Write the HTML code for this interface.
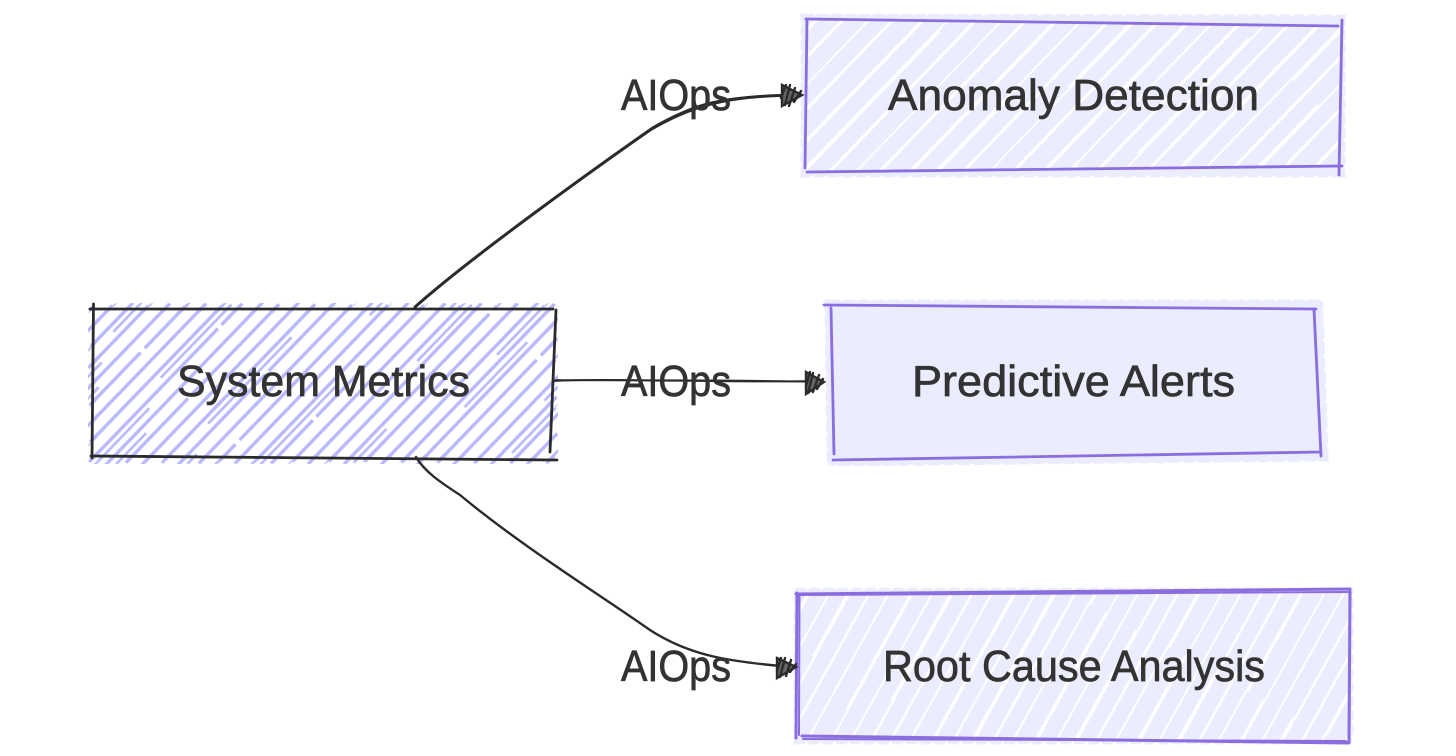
<!DOCTYPE html>
<html><head><meta charset="utf-8"><title>AIOps diagram</title>
<style>html,body{margin:0;padding:0;background:#fff;width:1456px;height:756px;overflow:hidden}svg{display:block}
text{font-family:"Liberation Sans",sans-serif;font-size:44px;fill:#333;stroke:#333;stroke-width:.7px}</style></head>
<body>
<svg width="1456" height="756" viewBox="0 0 1456 756" xmlns="http://www.w3.org/2000/svg">
<defs>
<pattern id="p1" patternUnits="userSpaceOnUse" width="66" height="420" patternTransform="rotate(44)">
<g stroke="#b8b8fb" stroke-width="3.4" fill="none">
<path d="M3 0V420M16 0V150M16 156V420M29 0V420M42 0V300M42 306V420M55 0V80M55 85V420"/>
<path d="M48 40V160M10 210V330M23 300V390M61 190V270" stroke-width="2.600"/>
</g></pattern>
<pattern id="p2" patternUnits="userSpaceOnUse" width="96" height="420" patternTransform="rotate(44)">
<rect width="96" height="420" fill="#ececff"/>
<g stroke="#fff" fill="none">
<path d="M6 0V420" stroke-width="3.500"/>
<path d="M24 0V210" stroke-width="2"/><path d="M25 210V420" stroke-width="4"/>
<path d="M44 0V420" stroke-width="3"/>
<path d="M62 0V160" stroke-width="4"/><path d="M63 160V420" stroke-width="1.800"/>
<path d="M80 0V420" stroke-width="3"/>
</g></pattern>
<pattern id="p4" patternUnits="userSpaceOnUse" width="90" height="420" patternTransform="rotate(29)">
<rect width="90" height="420" fill="#ececff"/>
<g stroke="#fff" fill="none">
<path d="M5 0V210" stroke-width="3.400"/><path d="M6 210V420" stroke-width="1.800"/>
<path d="M23 0V420" stroke-width="2"/>
<path d="M40 0V180" stroke-width="3.800"/><path d="M41 180V420" stroke-width="2.400"/>
<path d="M58 0V420" stroke-width="2.600"/>
<path d="M75 0V260" stroke-width="2"/><path d="M76 260V420" stroke-width="3.400"/>
</g></pattern>
</defs>

<rect width="1456" height="756" fill="#fff"/>

<!-- System Metrics -->
<rect x="93" y="308" width="460" height="151" fill="none" stroke="url(#p1)" stroke-width="10" stroke-dasharray="3 9" stroke-linecap="round"/>
<rect x="93" y="308" width="460" height="151" fill="url(#p1)"/>
<g stroke="#2b2b2b" stroke-width="2.800" fill="none" stroke-linecap="round">
<path d="M90 309L553 309"/><path d="M93.500 304L92 458"/><path d="M556 310L550 452"/><path d="M91 456L557 460"/>
</g>

<!-- Anomaly Detection -->
<path d="M806 19L1340 20L1340 172L806 172Z" fill="none" stroke="#ececff" stroke-width="11" stroke-dasharray="5 9" stroke-linecap="round"/>
<path d="M806 19L1340 26L1340 168L806 172Z" fill="url(#p2)"/>
<g stroke="#8a6ddf" stroke-width="2.800" fill="none" stroke-linecap="round">
<path d="M806 19L1338 26"/><path d="M1342 20L1339 175"/><path d="M807 172L1342 166"/><path d="M807 20L805 168"/>
</g>

<!-- Predictive Alerts -->
<path d="M831 306H1317L1322 455L833 460Z" fill="#ececff" stroke="#ececff" stroke-width="13" stroke-dasharray="6 9" stroke-linecap="round"/>
<path d="M831 306H1317L1322 455L833 460Z" fill="#ececff"/>
<g stroke="#8a6ddf" stroke-width="2.800" fill="none" stroke-linecap="round">
<path d="M824 305L1316 309"/><path d="M1314 309L1321 456"/><path d="M833 460L1321 452"/><path d="M831 308L834 454"/>
</g>

<!-- Root Cause Analysis -->
<rect x="798" y="592" width="551" height="148" fill="none" stroke="#ececff" stroke-width="9" stroke-dasharray="5 9" stroke-linecap="round"/>
<rect x="798" y="592" width="551" height="148" fill="url(#p4)"/>
<g stroke="#8a6ddf" stroke-width="3" fill="none" stroke-linecap="round">
<path d="M796 594L1350 589"/><path d="M800 595L1348 592" stroke-width="2"/>
<path d="M1350 591L1349 742"/><path d="M802 736L1349 743"/><path d="M803 739L1346 741" stroke-width="2"/>
<path d="M797 593L796 738"/><path d="M799.500 595L799 735" stroke-width="2"/>
</g>

<!-- Connectors -->
<g stroke="#2b2b2b" fill="none" stroke-linecap="round">
<path d="M415 307C470 258 590 172 650 130C700 100 740 96 800 95" stroke-width="3"/>
<path d="M417 305C470 258 592 170 652 128C695 103 720 98 770 96" stroke-width="2.200"/>
<path d="M553 381C610 378 720 383 820 381" stroke-width="2"/>
<path d="M556 380C640 381 720 379 815 382" stroke-width="1.800"/>
<path d="M416 457C425 472 440 482 460 495C520 545 600 595 650 630C690 656 730 662 793 667" stroke-width="2.400"/>
</g>
<!-- Arrowheads -->
<g stroke="#2b2b2b" stroke-width="2.400" fill="none" stroke-linecap="round">
<path d="M782 85L802 95L782 106Z" fill="#666"/><path d="M785 105L790 85M789 106L795 88M781 98L786 85M794 102L801 91"/>
<path d="M806 372L824 382L806 394Z" fill="#666"/><path d="M808 393L813 373M813 392L819 375M806 386L810 372M817 389L823 379"/>
<path d="M777 658L796 667L777 678Z" fill="#666"/><path d="M780 677L785 658M786 676L791 660M777 671L781 658M790 672L796 664"/>
</g>

<!-- Labels -->
<text x="177" y="396" textLength="293" lengthAdjust="spacingAndGlyphs">System Metrics</text>
<text x="888" y="110" textLength="371" lengthAdjust="spacingAndGlyphs">Anomaly Detection</text>
<text x="912" y="396" textLength="323" lengthAdjust="spacingAndGlyphs">Predictive Alerts</text>
<text x="883" y="681" textLength="382" lengthAdjust="spacingAndGlyphs">Root Cause Analysis</text>
<text x="621" y="110" textLength="110" lengthAdjust="spacingAndGlyphs">AIOps</text>
<text x="621" y="396" textLength="110" lengthAdjust="spacingAndGlyphs">AIOps</text>
<text x="621" y="681" textLength="110" lengthAdjust="spacingAndGlyphs">AIOps</text>
</svg>
</body></html>
